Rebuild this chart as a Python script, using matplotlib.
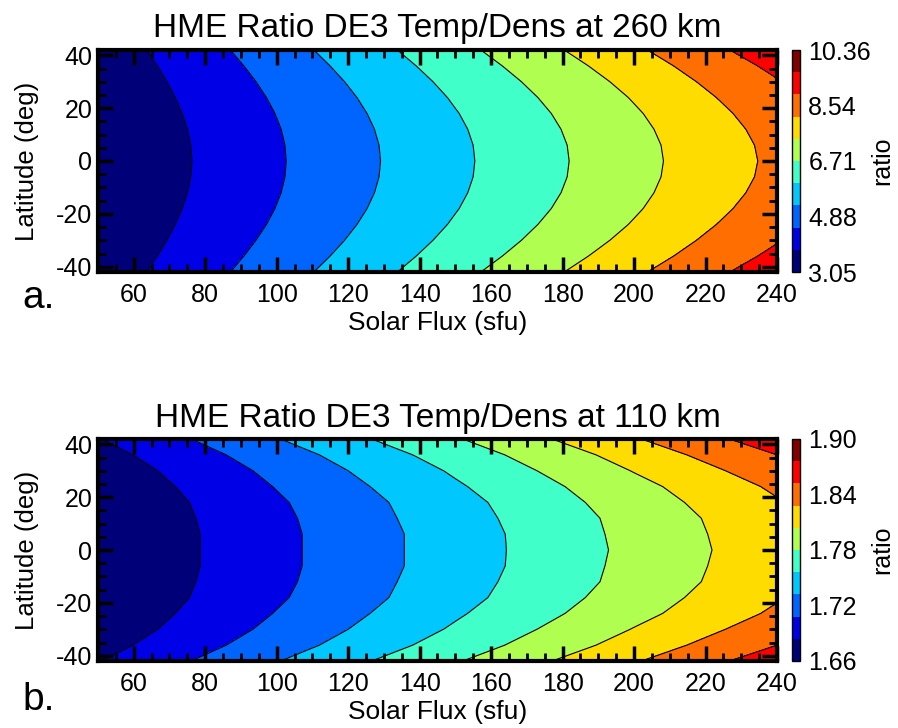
import numpy as np
import matplotlib
matplotlib.use("Agg")
import matplotlib.pyplot as plt
from matplotlib.colors import ListedColormap
from matplotlib.ticker import MultipleLocator

plt.rcParams["font.family"] = ["Liberation Sans", "DejaVu Sans"]
plt.rcParams["axes.unicode_minus"] = False

# Grid: solar flux columns (sfu) and latitude rows (deg)
flux = [50, 100, 150, 200, 240]
latitude = [-42, -36, -30, -24, -18, -12, -6, 0, 6, 12, 18, 24, 30, 36, 42]

# HME ratio DE3 temperature/density at 260 km (rows follow `latitude`)
ratio_260 = [
    [3.352, 4.917, 6.482, 8.047, 9.316],
    [3.280, 4.790, 6.307, 7.824, 9.068],
    [3.216, 4.682, 6.159, 7.636, 8.853],
    [3.162, 4.594, 6.038, 7.482, 8.671],
    [3.118, 4.526, 5.944, 7.362, 8.525],
    [3.084, 4.477, 5.877, 7.277, 8.415],
    [3.062, 4.448, 5.836, 7.225, 8.343],
    [3.053, 4.438, 5.823, 7.208, 8.316],
    [3.062, 4.448, 5.836, 7.225, 8.343],
    [3.084, 4.477, 5.877, 7.277, 8.415],
    [3.118, 4.526, 5.944, 7.362, 8.525],
    [3.162, 4.594, 6.038, 7.482, 8.671],
    [3.216, 4.682, 6.159, 7.636, 8.853],
    [3.280, 4.790, 6.307, 7.824, 9.068],
    [3.352, 4.917, 6.482, 8.047, 9.316],
]

# HME ratio DE3 temperature/density at 110 km
ratio_110 = [
    [1.683, 1.731, 1.778, 1.826, 1.865],
    [1.675, 1.721, 1.767, 1.814, 1.852],
    [1.669, 1.714, 1.759, 1.805, 1.841],
    [1.665, 1.709, 1.753, 1.797, 1.832],
    [1.662, 1.705, 1.748, 1.792, 1.826],
    [1.661, 1.703, 1.746, 1.788, 1.822],
    [1.660, 1.702, 1.744, 1.787, 1.820],
    [1.660, 1.702, 1.744, 1.786, 1.819],
    [1.660, 1.702, 1.744, 1.787, 1.820],
    [1.661, 1.703, 1.746, 1.788, 1.822],
    [1.662, 1.705, 1.748, 1.792, 1.826],
    [1.665, 1.709, 1.753, 1.797, 1.832],
    [1.669, 1.714, 1.759, 1.805, 1.841],
    [1.675, 1.721, 1.767, 1.814, 1.852],
    [1.683, 1.731, 1.778, 1.826, 1.865],
]

cbar_ticks_260 = ["3.05", "4.88", "6.71", "8.54", "10.36"]
cbar_ticks_110 = ["1.66", "1.72", "1.78", "1.84", "1.90"]

titles = ["HME Ratio DE3 Temp/Dens at 260 km", "HME Ratio DE3 Temp/Dens at 110 km"]
panel_tags = ["a.", "b."]

band_colors = ["#000078", "#0000E6", "#0064FF", "#00C8FF", "#40FFC8",
               "#B0FF50", "#FFDC00", "#FF6E00", "#FF0000", "#820000"]
cmap = ListedColormap(band_colors)

fig = plt.figure(figsize=(8.98, 7.28), dpi=100)

W, H = 898.0, 728.0
panels = [
    dict(top=50, bottom=272, data=ratio_260, ticks=cbar_ticks_260, tag_y=308),
    dict(top=439, bottom=661, data=ratio_110, ticks=cbar_ticks_110, tag_y=710),
]
ax_left, ax_right = 98, 777
cb_left, cb_right = 792, 800

F, L = np.meshgrid(flux, latitude)

for i, p in enumerate(panels):
    ax = fig.add_axes([ax_left / W, 1 - p["bottom"] / H,
                       (ax_right - ax_left) / W, (p["bottom"] - p["top"]) / H])
    Z = np.array(p["data"])
    tick_vals = [float(t) for t in p["ticks"]]
    levels = np.linspace(tick_vals[0], tick_vals[-1], len(band_colors) + 1)

    cs = ax.contourf(F, L, Z, levels=levels, cmap=cmap)
    ax.contour(F, L, Z, levels=levels, colors="black", linewidths=0.8)

    ax.set_xlim(50, 240)
    ax.set_ylim(-42, 42)
    ax.set_xticks(np.arange(60, 241, 20))
    ax.xaxis.set_minor_locator(MultipleLocator(5))
    ax.yaxis.set_major_locator(MultipleLocator(20))
    ax.yaxis.set_minor_locator(MultipleLocator(5))
    ax.tick_params(which="both", direction="in", top=True, right=True)
    ax.tick_params(which="major", length=11, width=2.5, labelsize=18)
    ax.tick_params(axis="x", which="major", pad=8)
    ax.tick_params(axis="y", which="major", pad=4)
    ax.tick_params(which="minor", length=6, width=2)
    for s in ax.spines.values():
        s.set_linewidth(3)

    ax.set_title(titles[i], fontsize=24, pad=9)
    ax.set_xlabel("Solar Flux (sfu)", fontsize=19, labelpad=3)
    ax.set_ylabel("Latitude (deg)", fontsize=18.5, labelpad=12)

    fig.text(22 / W, 1 - p["tag_y"] / H, panel_tags[i], fontsize=28,
             ha="left", va="baseline")

    cax = fig.add_axes([cb_left / W, 1 - p["bottom"] / H,
                        (cb_right - cb_left) / W, (p["bottom"] - p["top"]) / H])
    cb = fig.colorbar(cs, cax=cax, ticks=tick_vals)
    cb.ax.set_yticklabels(p["ticks"])
    cb.ax.tick_params(length=0, labelsize=18, pad=6)
    cb.outline.set_linewidth(1)
    fig.text(882 / W, 1 - (p["top"] + p["bottom"]) / 2 / H, "ratio",
             fontsize=18, rotation=90, ha="center", va="center")

fig.savefig("out.png", dpi=100)
